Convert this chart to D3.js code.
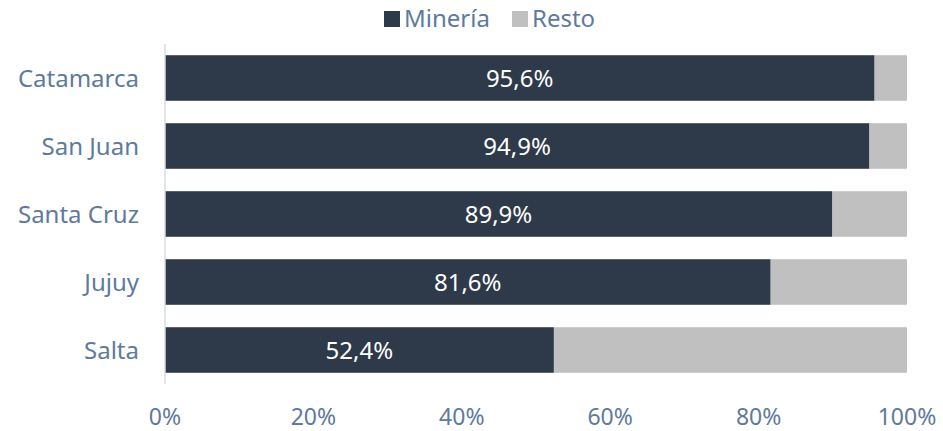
<!DOCTYPE html>
<html>
<head>
<meta charset="utf-8">
<script src="https://cdn.jsdelivr.net/npm/d3@7"></script>
<style>
  body { margin: 0; background: #fff; }
  text { font-family: "Noto Sans", "Open Sans", sans-serif; }
</style>
</head>
<body>
<script>
// data
var provincias = ["Catamarca", "San Juan", "Santa Cruz", "Jujuy", "Salta"];
var mineria = [95.6, 94.9, 89.9, 81.6, 52.4];
var resto = [4.4, 5.1, 10.1, 18.4, 47.6];
var ticks = [0, 20, 40, 60, 80, 100];

var W = 943, H = 431;
var textColor = "#5E7A9C";
var dark = "#2E3A4A", light = "#C0C0C0";
var fs = "24px";

var svg = d3.select("body").append("svg")
    .attr("width", W)
    .attr("height", H);

var x = d3.scaleLinear().domain([0, 100]).range([165, 907]);
var y = d3.scaleBand().domain(provincias).range([44, 384])
    .paddingInner(0.33).paddingOuter(0.165);

var rows = provincias.map(function (p, i) {
    return { name: p, m: mineria[i], r: resto[i] };
});

// bars - resto
svg.selectAll(".resto").data(rows).enter().append("rect")
    .attr("x", function (d) { return x(d.m); })
    .attr("y", function (d) { return y(d.name); })
    .attr("width", function (d) { return x(d.m + d.r) - x(d.m); })
    .attr("height", y.bandwidth())
    .attr("fill", light);

// bars - mineria
svg.selectAll(".min").data(rows).enter().append("rect")
    .attr("x", x(0))
    .attr("y", function (d) { return y(d.name); })
    .attr("width", function (d) { return x(d.m) - x(0); })
    .attr("height", y.bandwidth())
    .attr("fill", dark);

// value labels
svg.selectAll(".lbl").data(rows).enter().append("text")
    .attr("x", function (d) { return (x(0) + x(d.m)) / 2; })
    .attr("y", function (d) { return y(d.name) + y.bandwidth() / 2; })
    .attr("dy", "0.36em")
    .attr("text-anchor", "middle")
    .attr("fill", "#fff")
    .style("font-size", fs)
    .text(function (d) { return d3.format(".1f")(d.m).replace(".", ",") + "%"; });

// y axis
svg.append("line")
    .attr("x1", x(0)).attr("x2", x(0))
    .attr("y1", 44).attr("y2", 384)
    .attr("stroke", "#D9DDE3").attr("stroke-width", 1.5);

svg.selectAll(".cat").data(provincias).enter().append("text")
    .attr("x", 139)
    .attr("y", function (d) { return y(d) + y.bandwidth() / 2; })
    .attr("dy", "0.36em")
    .attr("text-anchor", "end")
    .attr("fill", textColor)
    .style("font-size", fs)
    .text(function (d) { return d; });

// x axis labels
svg.selectAll(".tick").data(ticks).enter().append("text")
    .attr("x", function (d) { return x(d); })
    .attr("y", 425)
    .attr("text-anchor", "middle")
    .attr("fill", textColor)
    .style("font-size", "23px")
    .text(function (d) { return d + "%"; });

// legend
var legend = [{ k: "Minería", c: dark, x: 384 }, { k: "Resto", c: light, x: 512 }];
var lg = svg.selectAll(".lg").data(legend).enter().append("g");
lg.append("rect")
    .attr("x", function (d) { return d.x; })
    .attr("y", 11)
    .attr("width", 16).attr("height", 16)
    .attr("fill", function (d) { return d.c; });
lg.append("text")
    .attr("x", function (d) { return d.x + 20; })
    .attr("y", 18)
    .attr("dy", "0.36em")
    .attr("fill", textColor)
    .style("font-size", fs)
    .text(function (d) { return d.k; });
</script>
</body>
</html>
